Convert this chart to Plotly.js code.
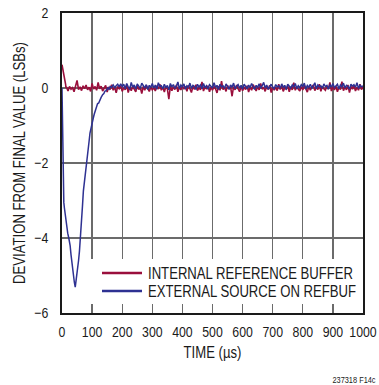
<!DOCTYPE html>
<html><head><meta charset="utf-8">
<script src="https://cdn.plot.ly/plotly-3.0.1.min.js"></script>
<style>html,body{margin:0;padding:0;background:#fff;}#chart{width:379px;height:385px;}</style>
</head><body><div id="chart"></div>
<script>
// ---- data ----
var seriesNames = ['INTERNAL REFERENCE BUFFER', 'EXTERNAL SOURCE ON REFBUF'];
var xTickVals = [0,100,200,300,400,500,600,700,800,900,1000];
var yTickVals = [-6,-4,-2,0,2];

// internal reference buffer: initial transient (µs, LSB)
var redHeadT = [0,1,2,3,4,5,6,7,8,9,10,11,12,13];
var redHeadV = [0.62,0.58,0.55,0.5,0.46,0.42,0.38,0.35,0.31,0.28,0.25,0.2,0.1,0.02];
// internal reference buffer: settled trace, sampled every 5 µs from 15 µs
var redTailStart = 15, tailStep = 5;
var redTailV = [
 0.02,-0.08,0.04,-0.03,0.01,-0.1,0.05,0.2,-0.04,0.03,-0.07,0.06,-0.02,0.08,-0.05,0.02,-0.09,0.12,-0.03,
 0.04,-0.06,0.15,-0.02,0.05,-0.08,0.01,0.07,-0.11,0.03,-0.04,0.09,-0.06,0.02,-0.13,0.04,-0.02,0.06,-0.09,0.01,
 -0.05,0.08,-0.12,0.03,-0.07,0.05,-0.03,-0.1,0.06,-0.04,0.02,-0.15,0.04,-0.06,0.07,-0.02,-0.09,0.03,-0.05,0.01,
 -0.08,0.06,-0.03,0.1,-0.06,0.02,-0.11,0.04,-0.02,-0.3,0.05,-0.07,0.03,-0.04,0.08,-0.1,0.02,-0.05,0.06,-0.03,
 0.04,-0.09,0.07,-0.02,-0.12,0.05,-0.04,0.09,-0.07,0.01,-0.05,0.16,-0.08,0.03,-0.03,0.06,-0.1,0.02,-0.06,0.04,
 -0.02,-0.13,0.05,-0.06,0.18,-0.04,0.02,-0.09,0.07,-0.03,0.03,-0.22,0.04,-0.05,0.08,-0.02,-0.1,0.05,-0.07,0.02,
 -0.04,0.06,-0.11,0.03,-0.06,0.09,-0.02,-0.08,0.04,-0.05,0.12,-0.03,0.02,-0.09,0.05,-0.04,0.07,-0.12,0.03,-0.06,
 0.02,-0.07,0.1,-0.04,0.05,-0.09,0.01,-0.03,0.06,-0.1,0.03,-0.05,0.14,-0.06,0.02,-0.02,-0.08,0.04,-0.05,0.07,
 -0.03,-0.11,0.05,-0.06,0.03,0.08,-0.07,0.02,-0.04,0.1,-0.09,0.04,-0.02,-0.06,0.06,-0.03,0.15,-0.08,0.03,-0.05,
 0.05,-0.1,0.02,-0.04,0.17,-0.07,0.03,-0.05,0.08,-0.12,0.04,-0.03,0.06,-0.08,0.02,-0.06,0.1,-0.04,0.03
];

// external source on REFBUF: dip and recovery (µs, LSB)
var blueHeadT = [0,1,2,3,4,6,8,10,13,16,19,23,27,30,34,38,41,44,47,51,55,58,62,65,68,71,76,82,87,90,93,97,100,104,107,110,114,118,122,126,130,135,139,143,147,152,156,160,165,170,175,180,185,190,195,200];
var blueHeadV = [0,-0.6,-1.5,-2.3,-2.8,-3.05,-3.2,-3.33,-3.55,-3.72,-3.87,-4.02,-4.2,-4.45,-4.76,-5.0,-5.18,-5.31,-5.15,-4.9,-4.6,-4.35,-3.95,-3.55,-3.15,-2.75,-2.35,-2.0,-1.6,-1.42,-1.2,-1.08,-0.92,-0.8,-0.7,-0.62,-0.55,-0.42,-0.4,-0.3,-0.25,-0.18,-0.15,-0.08,-0.07,0.0,-0.03,0.04,0.02,0.08,0.01,0.06,0.1,0.03,0.11,0.04];
// external source: settled trace, sampled every 5 µs from 205 µs
var blueTailStart = 205;
var blueTailV = [
 0.1,-0.02,0.12,0.03,-0.04,0.15,0.02,0.08,-0.03,0.11,0.04,-0.01,0.13,0.05,0.0,0.09,-0.04,0.07,0.02,0.12,
 0.0,0.08,-0.03,0.14,0.04,0.06,-0.02,0.1,0.01,0.07,-0.05,0.12,0.03,0.09,-0.01,0.05,0.16,-0.02,0.08,0.03,
 0.11,-0.03,0.06,0.02,0.13,-0.01,0.07,0.04,-0.04,0.1,0.03,0.08,-0.02,0.12,0.01,0.06,-0.03,0.09,0.05,0.0,
 0.14,0.02,0.07,-0.04,0.1,0.03,0.06,-0.01,0.11,0.04,-0.03,0.08,0.02,0.13,-0.02,0.05,0.09,0.0,0.07,-0.03,
 0.1,0.04,-0.02,0.08,0.01,0.12,0.03,-0.04,0.07,0.02,0.11,-0.01,0.06,0.15,0.0,0.08,-0.03,0.05,0.1,0.02,
 -0.02,0.09,0.03,0.06,-0.01,0.11,0.02,0.07,-0.04,0.1,0.04,0.0,0.08,0.03,0.12,-0.02,0.06,0.01,0.09,0.04,
 0.13,-0.03,0.07,0.02,0.1,0.0,0.05,0.14,-0.02,0.08,0.03,0.06,-0.01,0.11,0.04,0.07,-0.03,0.09,0.02,0.12,
 0.01,0.06,0.1,-0.02,0.08,0.03,0.13,0.0,0.07,0.04,-0.03,0.1,0.05,0.09,0.02,0.14,-0.01,0.07,0.03,0.06
];

// ---- build series ----
function joinSeries(headT, headV, start, step, tailV) {
  var x = headT.slice(), y = headV.slice();
  for (var i = 0; i < tailV.length; i++) { x.push(start + i * step); y.push(tailV[i]); }
  return {x: x, y: y};
}
var red = joinSeries(redHeadT, redHeadV, redTailStart, tailStep, redTailV);
var blue = joinSeries(blueHeadT, blueHeadV, blueTailStart, tailStep, blueTailV);

var RED = '#9a0f3c', BLUE = '#2e3192';
var F = "'Liberation Sans Narrow', 'Arial Narrow', 'Liberation Sans', Arial, sans-serif";
var INK = '#1a1a1a';
var CONDENSE = 0.82; // reference typeface is a narrow grotesque

var traces = [
  {x: red.x, y: red.y, type: 'scatter', mode: 'lines', name: seriesNames[0], line: {color: RED, width: 1.6}},
  {x: blue.x, y: blue.y, type: 'scatter', mode: 'lines', name: seriesNames[1], line: {color: BLUE, width: 1.5}}
];

// legend drawn in paper coordinates (plot area = 301 x 300 px)
var px = function (p) { return (p - 62) / 301; };
var py = function (p) { return (313 - p) / 300; };

var layout = {
  width: 379, height: 385,
  margin: {l: 62, r: 16, t: 13, b: 72},
  paper_bgcolor: '#fff', plot_bgcolor: '#fff',
  showlegend: false,
  font: {family: F, size: 15, color: INK},
  xaxis: {
    range: [0, 1000], tickvals: xTickVals, ticks: '', ticklabelstandoff: 4, tickangle: 0,
    ticklabeloverflow: 'allow',
    showgrid: true, gridcolor: '#6b6b6b', gridwidth: 1.3, zeroline: false,
    showline: true, linecolor: INK, linewidth: 1.6, mirror: true,
    tickfont: {family: F, size: 15, color: INK},
    title: {text: 'TIME (µs)', font: {family: F, size: 16, color: INK}, standoff: 8}
  },
  yaxis: {
    range: [-6, 2], tickvals: yTickVals, ticks: '', ticklabelstandoff: 9,
    showgrid: true, gridcolor: '#6b6b6b', gridwidth: 1.3, zeroline: false,
    showline: true, linecolor: INK, linewidth: 1.6, mirror: true,
    tickfont: {family: F, size: 15, color: INK},
    title: {text: 'DEVIATION FROM FINAL VALUE (LSBs)', font: {family: F, size: 16, color: INK}, standoff: 1.5}
  },
  shapes: [
    {type: 'rect', xref: 'paper', yref: 'paper', x0: px(89), x1: px(361.5), y0: py(304), y1: py(259), fillcolor: '#fff', line: {width: 0}, layer: 'above'},
    {type: 'line', xref: 'paper', yref: 'paper', x0: px(102), x1: px(142), y0: py(273), y1: py(273), line: {color: RED, width: 2.5}, layer: 'above'},
    {type: 'line', xref: 'paper', yref: 'paper', x0: px(102), x1: px(142), y0: py(291), y1: py(291), line: {color: BLUE, width: 2.5}, layer: 'above'}
  ],
  annotations: [
    {xref: 'paper', yref: 'paper', x: px(146), y: py(273), xanchor: 'left', yanchor: 'middle', align: 'left', showarrow: false, text: seriesNames[0], font: {family: F, size: 16, color: INK}},
    {xref: 'paper', yref: 'paper', x: px(146), y: py(291), xanchor: 'left', yanchor: 'middle', align: 'left', showarrow: false, text: seriesNames[1], font: {family: F, size: 16, color: INK}},
    {xref: 'paper', yref: 'paper', x: px(378), y: py(380), xanchor: 'right', yanchor: 'middle', align: 'right', showarrow: false, text: '237318 F14c', font: {family: F, size: 9, color: INK}}
  ]
};

Plotly.newPlot('chart', traces, layout, {staticPlot: true, displayModeBar: false}).then(function (gd) {
  // condense every label horizontally, keeping it as real text
  var texts = gd.querySelectorAll('svg text');
  for (var i = 0; i < texts.length; i++) {
    var t = texts[i];
    var L = t.getComputedTextLength();
    if (L > 0) {
      t.setAttribute('textLength', (L * CONDENSE).toFixed(2));
      t.setAttribute('lengthAdjust', 'spacingAndGlyphs');
    }
  }
});
</script>
</body></html>
